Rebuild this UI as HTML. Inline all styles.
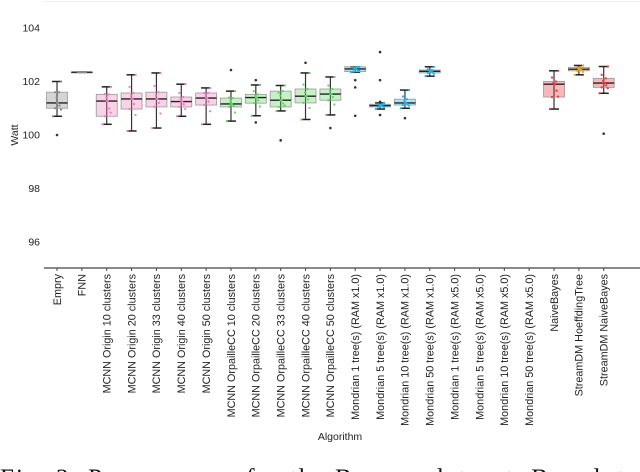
<!DOCTYPE html>
<html><head><meta charset="utf-8"><style>
html,body{margin:0;padding:0;background:#fff;width:640px;height:472px;overflow:hidden}
svg{display:block}
</style></head><body>
<svg id="chart" width="640" height="472" xmlns="http://www.w3.org/2000/svg" font-family="Liberation Sans, sans-serif">
<line x1="44" y1="1.5" x2="640" y2="1.5" stroke="#eee" stroke-width="1"/>
<line x1="44" y1="268" x2="640" y2="268" stroke="#444" stroke-width="1.2"/>
<text transform="translate(18,135) rotate(-90)" text-anchor="middle" font-size="10.5" fill="#222">Watt</text>
<text x="340" y="440" text-anchor="middle" font-size="10.5" fill="#222">Algorithm</text>
<text x="0" y="486" font-family="Liberation Serif, serif" font-size="25" fill="#111" textLength="636">Fig. 2: Power usage for the Banana dataset. Boxplots</text>
<g id="plot"></g>
</svg>
<script>
const categories=["Empry","FNN","MCNN Origin 10 clusters","MCNN Origin 20 clusters","MCNN Origin 33 clusters","MCNN Origin 40 clusters","MCNN Origin 50 clusters","MCNN OrpailleCC 10 clusters","MCNN OrpailleCC 20 clusters","MCNN OrpailleCC 33 clusters","MCNN OrpailleCC 40 clusters","MCNN OrpailleCC 50 clusters","Mondrian 1 tree(s) (RAM x1.0)","Mondrian 5 tree(s) (RAM x1.0)","Mondrian 10 tree(s) (RAM x1.0)","Mondrian 50 tree(s) (RAM x1.0)","Mondrian 1 tree(s) (RAM x5.0)","Mondrian 5 tree(s) (RAM x5.0)","Mondrian 10 tree(s) (RAM x5.0)","Mondrian 50 tree(s) (RAM x5.0)","NaiveBayes","StreamDM HoeffdingTree","StreamDM NaiveBayes"];
const whiskLow=[100.7,102.35,100.4,100.15,100.26,100.7,100.4,100.52,100.72,100.9,100.58,100.75,102.35,100.97,101.0,102.2,null,null,null,null,100.97,102.25,101.56];
const q1=[101.0,102.35,100.7,100.97,101.05,101.05,101.12,101.05,101.19,101.05,101.2,101.3,102.37,101.05,101.12,102.32,null,null,null,null,101.42,102.4,101.78];
const med=[101.2,102.35,101.27,101.35,101.35,101.25,101.38,101.16,101.4,101.3,101.45,101.53,102.47,101.1,101.2,102.38,null,null,null,null,101.9,102.46,101.94];
const q3=[101.6,102.35,101.52,101.57,101.6,101.42,101.57,101.38,101.52,101.64,101.72,101.72,102.55,101.15,101.34,102.43,null,null,null,null,102.0,102.53,102.12];
const whiskHigh=[102.0,102.35,101.8,102.25,102.32,101.9,101.76,101.64,101.87,101.85,102.32,102.17,102.55,101.2,101.68,102.55,null,null,null,null,102.4,102.6,102.56];
const outliers=[[100.0],[],[],[],[],[],[],[102.43],[100.47,102.05],[99.8],[102.7],[100.26],[102.05,101.78,100.72],[103.1,102.05,100.75,101.24],[100.63],[],[],[],[],[],[],[],[100.05]];
const colors=["#888888","#888888","#f07ab8","#f07ab8","#f07ab8","#f07ab8","#f07ab8","#5cd65c","#5cd65c","#5cd65c","#5cd65c","#5cd65c","#1ab2e8","#1ab2e8","#1ab2e8","#1ab2e8","#1ab2e8","#1ab2e8","#1ab2e8","#1ab2e8","#e8323c","#f5a01a","#e8323c"];
const yTicks=[96,98,100,102,104];
const NS="http://www.w3.org/2000/svg";
const g=document.getElementById('plot');
const x0=44.6, bw=24.85;
function xPos(i){return x0+bw*(i+0.5);}
function yPos(v){return 135-(v-100)*26.75;}
function mk(tag,attrs,parent){const e=document.createElementNS(NS,tag);for(const k in attrs)e.setAttribute(k,attrs[k]);(parent||g).appendChild(e);return e;}
yTicks.forEach(t=>{
  const tx=mk('text',{x:40,y:yPos(t)+3.5,'text-anchor':'end','font-size':'10.5',fill:'#222'});
  tx.textContent=t;
  
  
});
categories.forEach((c,i)=>{
  const x=xPos(i);
  const tk=mk('line',{x1:x,y1:268,x2:x,y2:271,stroke:'#444','stroke-width':1});
  
  
  const lb=mk('text',{transform:`translate(${x+3.8},274) rotate(-90)`,'text-anchor':'end','font-size':'10.8',fill:'#222'});
  lb.textContent=c;
  
  
  const grp=mk('g',{});
  
  
  const col=colors[i];
  if(q1[i]!==null){
    mk('line',{x1:x,y1:yPos(whiskLow[i]),x2:x,y2:yPos(whiskHigh[i]),stroke:'#333','stroke-width':1.2},grp);
    [whiskLow[i],whiskHigh[i]].forEach(v=>mk('line',{x1:x-5,y1:yPos(v),x2:x+5,y2:yPos(v),stroke:'#222','stroke-width':1.5},grp));
    const h=Math.max(0.8,yPos(q1[i])-yPos(q3[i]));
    mk('rect',{x:x-10.5,y:yPos(q3[i]),width:21,height:h,fill:col,'fill-opacity':0.35,stroke:'#999','stroke-width':0.8},grp);
    mk('line',{x1:x-10.5,y1:yPos(med[i]),x2:x+10.5,y2:yPos(med[i]),stroke:'#222','stroke-width':1.4},grp);
    const span=[whiskLow[i],q1[i],med[i],q3[i],whiskHigh[i]];
    span.forEach((v,k)=>{
      mk('circle',{cx:x+(k-2)*2,cy:yPos(v),r:1.1,fill:col},grp);
      mk('circle',{cx:x-(k-2)*1.5+1,cy:yPos((v+med[i])/2),r:1.1,fill:col},grp);
    });
  }
  outliers[i].forEach(v=>{
    const o=mk('circle',{cx:x,cy:yPos(v),r:1.3,fill:'#333'},grp);
    
    
  });
});
</script>
</body></html>
